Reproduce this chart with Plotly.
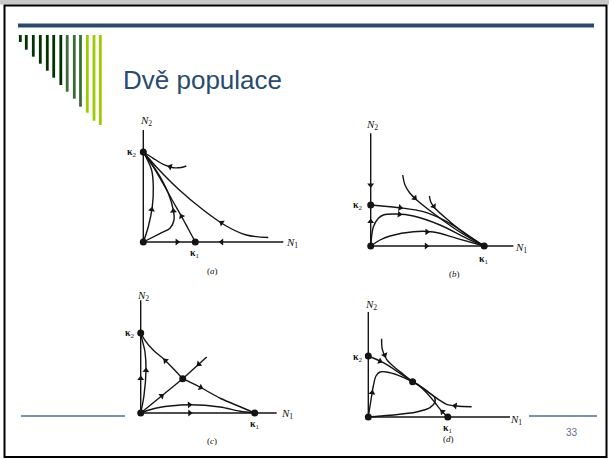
import math
import plotly.graph_objects as go

W, H = 609, 459

# ---------------- text ----------------
TITLE = "Dvě populace"
PAGE_NUMBER = "33"
CAPTIONS = ["(<i>a</i>)", "(<i>b</i>)", "(<i>c</i>)", "(<i>d</i>)"]

# ---------------- data (population units, origin = (0,0)) ----------------
# Panel (a): species 2 wins
A_K1 = 52
A_K2 = 90
A_N1_END = 140
A_N2_END = 112
A_EXTRA = []
A_TRAJ = [
    [(43, 76), (38, 74.5), (30, 74.3), (20, 77.7), (10, 83.7), (0, 90)],
    [(125, 4.5), (103, 7), (83, 16), (60, 32), (35, 53), (15, 73), (0, 90)],
    [(52, 0), (45, 13), (38, 26), (30, 40), (20, 58), (10, 75), (0, 90)],
    [(0, 0), (17, 8.7), (26.7, 13.7), (30.7, 22), (30, 32), (25, 48.7), (16.7, 65.3), (8.3, 78.7), (0, 90)],
    [(0, 0), (5, 15.3), (9, 35.3), (10, 55.3), (8.3, 72), (0, 90)],
]
A_AXIS_FLOW = [[(0, 0), (52, 0)], [(140, 0), (52, 0)]]
A_ARROWS = [("t", 0, 0.35), ("t", 1, 0.32), ("t", 2, 0.28), ("t", 3, 0.42), ("t", 4, 0.36),
            ("a", 0, 0.65), ("a", 1, 0.7)]

# Panel (b): species 1 wins
B_K1 = 113.5
B_K2 = 41
B_N1_END = 142.7
B_N2_END = 112.7
B_EXTRA = []
B_TRAJ = [
    [(0, 41), (19.3, 39.3), (29.3, 38.3), (52.7, 34.3), (79.3, 22.7), (99.3, 9.3), (113.5, 0)],
    [(0, 0), (2.7, 19.3), (7.7, 27.7), (12.7, 31), (26, 32), (42.7, 30), (69.3, 21), (96, 7.7), (113.5, 0)],
    [(0, 0), (9.3, 6), (19.3, 10), (42.7, 14.3), (62.7, 14), (86, 7.7), (113.5, 0)],
    [(32, 71), (34.3, 61), (39.3, 52.7), (46, 46), (62.7, 32.7), (86, 16), (102.7, 6), (113.5, 0)],
    [(58.7, 50), (60, 44.3), (64.3, 37.7), (79.3, 24.3), (96, 11), (113.5, 0)],
]
B_AXIS_FLOW = [[(0, 112.7), (0, 41)], [(0, 0), (0, 41)], [(0, 0), (113.5, 0)]]
B_ARROWS = [("t", 0, 0.24), ("t", 1, 0.36), ("t", 2, 0.5), ("t", 3, 0.24), ("t", 4, 0.15),
            ("a", 0, 0.72), ("a", 1, 0.6), ("a", 2, 0.49)]

# Panel (c): unstable coexistence (saddle)
C_K1 = 114
C_K2 = 80
C_N1_END = 136
C_N2_END = 112.7
C_EXTRA = [(42, 34.3)]
C_TRAJ = [
    [(42, 34.3), (32.7, 44.3), (22.7, 54.3), (12.7, 62.7), (4.3, 72.7), (0, 80)],
    [(42, 34.3), (60, 25.5), (80, 14.5), (100, 6), (114, 0)],
    [(0, 0), (42, 34.3)],
    [(66, 56), (42, 34.3)],
    [(0, 0), (3.3, 17.7), (5.3, 42.7), (4.3, 61), (1, 75), (0, 80)],
    [(0, 0), (12.7, 4.3), (29.3, 7), (49.3, 8.3), (79.3, 6), (99.3, 1.7), (114, 0)],
]
C_AXIS_FLOW = [[(0, 0), (0, 80)], [(0, 0), (114, 0)]]
C_ARROWS = [("t", 0, 0.4), ("t", 1, 0.25), ("t", 2, 0.5), ("t", 3, 0.33), ("t", 4, 0.53), ("t", 5, 0.43),
            ("a", 0, 0.43), ("a", 1, 0.43)]

# Panel (d): stable coexistence
D_K1 = 79.5
D_K2 = 61
D_N1_END = 141.7
D_N2_END = 105
D_EXTRA = [(44.3, 35.3)]
D_TRAJ = [
    [(0, 61), (15, 54.3), (31.7, 43.7), (44.3, 35.3)],
    [(13.3, 78.3), (14, 67.7), (18.3, 57.7), (26.7, 49.3), (35, 42.7), (44.3, 35.3)],
    [(0, 0), (3.3, 21), (5, 31), (7.7, 41), (11.7, 45), (18.3, 45), (30, 41.7), (44.3, 35.3)],
    [(0, 0), (21.7, 1.7), (48.3, 5), (61.7, 9.3), (66.7, 15), (66, 20), (58.3, 26), (51.7, 31), (44.3, 35.3)],
    [(79.5, 0), (73.3, 6), (66.7, 14.3), (58.3, 24.3), (50, 31.7), (44.3, 35.3)],
    [(103.3, 10.3), (88.3, 11), (78.3, 12.7), (70, 17.7), (60, 25), (51.7, 31), (44.3, 35.3)],
]
D_AXIS_FLOW = []
D_ARROWS = [("t", 0, 0.25), ("t", 1, 0.3), ("t", 2, 0.3), ("t", 4, 0.15), ("t", 5, 0.25)]

# ---------------- layout of the slide (pixels) ----------------
# origin pixel, plotting box pixel (x0, y0, x1, y1)
PANEL_GEOM = [
    ((143.3, 242), (118, 108, 312, 292)),
    ((370.7, 246), (338, 108, 542, 292)),
    ((140.7, 413), (112, 283, 306, 452)),
    ((368.3, 417), (338, 288, 542, 452)),
]
# label offsets (local units): N2, kappa2, kappa1, N1, caption
LABEL_POS = [
    [(3, 121), (-11, 90), (52, -11), (149, -1), (69, -29)],
    [(1, 121), (-13, 41), (113, -13), (150, -2), (84, -28)],
    [(2, 117), (-11, 80), (114, -11.5), (146, -0.5), (71, -28)],
    [(2.3, 112), (-10, 60), (80, -11.5), (148, -3), (80, -21.5)],
]

PANELS = [
    (A_K1, A_K2, A_N1_END, A_N2_END, A_TRAJ, A_AXIS_FLOW, A_ARROWS, A_EXTRA),
    (B_K1, B_K2, B_N1_END, B_N2_END, B_TRAJ, B_AXIS_FLOW, B_ARROWS, B_EXTRA),
    (C_K1, C_K2, C_N1_END, C_N2_END, C_TRAJ, C_AXIS_FLOW, C_ARROWS, C_EXTRA),
    (D_K1, D_K2, D_N1_END, D_N2_END, D_TRAJ, D_AXIS_FLOW, D_ARROWS, D_EXTRA),
]

INK = "#141414"


def point_on(pts, frac):
    seg = [math.dist(pts[i], pts[i + 1]) for i in range(len(pts) - 1)]
    total = sum(seg)
    target = frac * total
    acc = 0.0
    for i, s in enumerate(seg):
        if acc + s >= target or i == len(seg) - 1:
            t = (target - acc) / s if s else 0
            x0, y0 = pts[i]
            x1, y1 = pts[i + 1]
            return x0 + t * (x1 - x0), y0 + t * (y1 - y0), math.degrees(math.atan2(x1 - x0, y1 - y0))
        acc += s


fig = go.Figure()
layout_axes = {}
annotations = []

for i, (k1, k2, n1_end, n2_end, traj, flows, arrows, extra) in enumerate(PANELS):
    sfx = "" if i == 0 else str(i + 1)
    xa, ya = "x" + sfx, "y" + sfx
    (ox, oy), (bx0, by0, bx1, by1) = PANEL_GEOM[i]
    layout_axes["xaxis" + sfx] = dict(domain=[bx0 / W, bx1 / W], range=[bx0 - ox, bx1 - ox],
                                      visible=False, anchor=ya, fixedrange=True)
    layout_axes["yaxis" + sfx] = dict(domain=[1 - by1 / H, 1 - by0 / H], range=[oy - by1, oy - by0],
                                      visible=False, anchor=xa, fixedrange=True)
    # axes N1, N2
    fig.add_trace(go.Scatter(x=[0, 0, n1_end], y=[n2_end, 0, 0], mode="lines",
                             line=dict(color=INK, width=1.4), xaxis=xa, yaxis=ya,
                             hoverinfo="skip", showlegend=False))
    # trajectories
    for pts in traj:
        fig.add_trace(go.Scatter(x=[p[0] for p in pts], y=[p[1] for p in pts], mode="lines",
                                 line=dict(color=INK, width=1.4, shape="spline", smoothing=0.9),
                                 xaxis=xa, yaxis=ya, hoverinfo="skip", showlegend=False))
    # arrows
    ax_, ay_, ang = [], [], []
    for kind, idx, frac in arrows:
        pts = traj[idx] if kind == "t" else flows[idx]
        x, y, a = point_on(pts, frac)
        ax_.append(x)
        ay_.append(y)
        ang.append(a)
    if ax_:
        fig.add_trace(go.Scatter(x=ax_, y=ay_, mode="markers",
                                 marker=dict(symbol="triangle-up", size=6, angle=ang, color=INK,
                                             line=dict(width=0)),
                                 xaxis=xa, yaxis=ya, hoverinfo="skip", showlegend=False))
    # equilibria
    ex = [0, k1, 0] + [p[0] for p in extra]
    ey = [0, 0, k2] + [p[1] for p in extra]
    fig.add_trace(go.Scatter(x=ex, y=ey, mode="markers",
                             marker=dict(size=7, color=INK, line=dict(width=0)),
                             xaxis=xa, yaxis=ya, hoverinfo="skip", showlegend=False))
    # labels
    lp = LABEL_POS[i]
    texts = ["<i>N</i><sub>2</sub>", "<b>κ</b><sub>2</sub>", "<b>κ</b><sub>1</sub>",
             "<i>N</i><sub>1</sub>", CAPTIONS[i]]
    sizes = [11, 10, 10, 11, 9]
    for (lx, ly), t, s in zip(lp, texts, sizes):
        annotations.append(dict(x=lx, y=ly, xref=xa, yref=ya, text=t, showarrow=False,
                                font=dict(family="Liberation Serif, serif", size=s, color=INK),
                                xanchor="center", yanchor="middle"))

# ---------------- slide decoration ----------------
def px(x):
    return x / W


def py(y):
    return 1 - y / H


shapes = []
shapes.append(dict(type="rect", xref="paper", yref="paper", x0=0, x1=1, y0=py(4.5), y1=1,
                   fillcolor="#C9C9C9", line=dict(width=0), layer="below"))
shapes.append(dict(type="rect", xref="paper", yref="paper", x0=px(4.5), x1=px(606.5),
                   y0=py(457), y1=py(5.5), line=dict(color="black", width=2)))
shapes.append(dict(type="rect", xref="paper", yref="paper", x0=px(18), x1=px(594),
                   y0=py(27.5), y1=py(23.5), fillcolor="#2A4A6B", line=dict(width=0)))
BAR_X = [20.3, 26.3, 33.3, 40.3, 47.3, 53.7, 60.8, 67.2, 74.3, 80.5, 87.3, 94.0, 100.3]
BAR_BOTTOM = [42, 49.7, 56.7, 63.7, 70.7, 77.7, 85, 91.7, 98.7, 106.7, 112.7, 120.7, 125]
BAR_COLOR = ["#013300"] * 7 + ["#3B6B37"] * 3 + ["#9BCB00"] * 3
for bx, bb, bc in zip(BAR_X, BAR_BOTTOM, BAR_COLOR):
    shapes.append(dict(type="rect", xref="paper", yref="paper", x0=px(bx - 1.4), x1=px(bx + 1.4),
                       y0=py(bb), y1=py(35), fillcolor=bc, line=dict(width=0)))
for fx0, fx1 in [(21, 125), (529, 597)]:
    shapes.append(dict(type="line", xref="paper", yref="paper", x0=px(fx0), x1=px(fx1),
                       y0=py(416), y1=py(416), line=dict(color="#4F6E94", width=1.5)))

annotations.append(dict(x=px(121), y=py(80), xref="paper", yref="paper", text=TITLE,
                        showarrow=False, xanchor="left", yanchor="middle",
                        font=dict(family="Liberation Sans, Arial, sans-serif", size=26, color="#294B6E")))
annotations.append(dict(x=px(572), y=py(432), xref="paper", yref="paper", text=PAGE_NUMBER,
                        showarrow=False, xanchor="center", yanchor="middle",
                        font=dict(family="Liberation Sans, Arial, sans-serif", size=10, color="#5B7090")))

fig.update_layout(width=W, height=H, autosize=False, margin=dict(l=0, r=0, t=0, b=0),
                  paper_bgcolor="white", plot_bgcolor="rgba(0,0,0,0)",
                  shapes=shapes, annotations=annotations, showlegend=False, **layout_axes)

fig.write_html("out.html", config={"displayModeBar": False},
               post_script="document.body.style.margin='0px';document.body.style.padding='0px';")
